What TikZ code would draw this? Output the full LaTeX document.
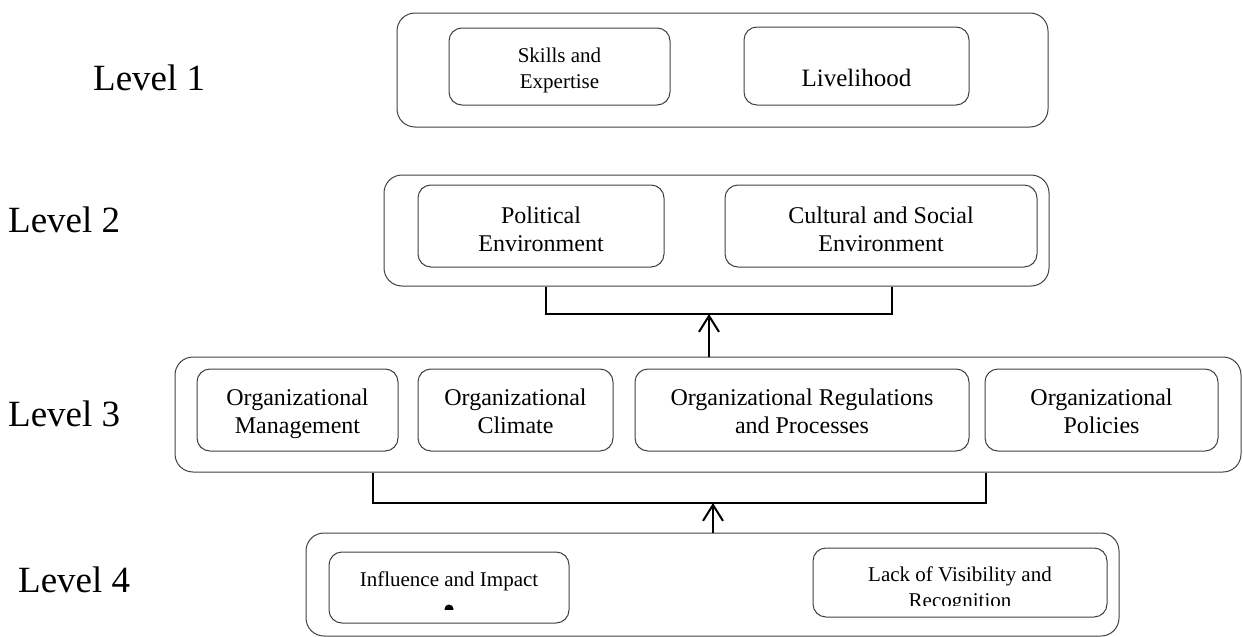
\documentclass[tikz,border=0pt]{standalone}
\usepackage{fontspec}
\setmainfont{Liberation Serif}
\usetikzlibrary{arrows.meta}
\begin{document}
\begin{tikzpicture}[x=1pt,y=-1pt,
  levelbox/.style={draw=black!75, line width=1pt, rounded corners=18pt, inner sep=0pt},
  itembox/.style={draw=black!75, line width=1pt, rounded corners=13pt, inner sep=0pt},
  levellabel/.style={font=\fontsize{37}{40}\selectfont, anchor=base west, inner sep=0pt},
  itemA/.style={font=\fontsize{24}{28}\selectfont, align=center, anchor=base, inner sep=0pt},
  itemB/.style={font=\fontsize{21}{26}\selectfont, align=center, anchor=base, inner sep=0pt},
  conn/.style={draw=black, line width=2pt},
  uparrow/.style={conn, -{Straight Barb[length=16pt,width=20pt,line width=2pt]}}]
\useasboundingbox (0,0) rectangle (1243,637);

% level labels
\node[levellabel] (lab1) at (93,90) {Level 1};
\node[levellabel] (lab2) at (8,232) {Level 2};
\node[levellabel] (lab3) at (8,426) {Level 3};
\node[levellabel] (lab4) at (18,592) {Level 4};

% level 1 (multi-line texts are placed by the baseline of their last line)
\node[levelbox, minimum width=651pt, minimum height=114pt] (l1) at (722.5,70) {};
\node[itembox, minimum width=221pt, minimum height=77pt] (skills) at (559.5,66.5) {};
\node[itembox, minimum width=225pt, minimum height=78pt] (live) at (856.5,66) {};
\node[itemB] (skillsT) at (559.5,88) {Skills and\\Expertise};
\node[itemA, font=\fontsize{25}{28}\selectfont] (liveT) at (856.5,86) {Livelihood};

% level 2
\node[levelbox, minimum width=665pt, minimum height=111pt] (l2) at (716.5,230.5) {};
\node[itembox, minimum width=246pt, minimum height=82pt] (pol) at (541,226) {};
\node[itembox, minimum width=312pt, minimum height=82pt] (cult) at (881,226) {};
\node[itemA] (polT) at (541,251) {Political\\Environment};
\node[itemA] (cultT) at (881,251) {Cultural and Social\\Environment};

% level 3
\node[levelbox, minimum width=1066pt, minimum height=115pt] (l3) at (708,414.5) {};
\node[itembox, minimum width=201pt, minimum height=82pt] (mgmt) at (297.5,410) {};
\node[itembox, minimum width=195pt, minimum height=82pt] (clim) at (515.5,410) {};
\node[itembox, minimum width=334pt, minimum height=82pt] (regs) at (802,410) {};
\node[itembox, minimum width=233pt, minimum height=82pt] (pols) at (1101.5,410) {};
\node[itemA] (mgmtT) at (297.5,433) {Organizational\\Management};
\node[itemA] (climT) at (515.5,433) {Organizational\\Climate};
\node[itemA] (regsT) at (802,433) {Organizational Regulations\\and Processes};
\node[itemA] (polsT) at (1101.5,433) {Organizational\\Policies};

% level 4
\node[levelbox, minimum width=813pt, minimum height=103pt] (l4) at (712.5,584.5) {};
\node[itembox, minimum width=240pt, minimum height=71pt] (infl) at (449,587.5) {};
\node[itembox, minimum width=294pt, minimum height=69pt] (lack) at (960,582.5) {};
\node[itemB] (inflT) at (449,586) {Influence and Impact};
\begin{scope}
  \clip (440,598) rectangle (458,609);
  \fill (449,609) circle[radius=4.5pt];
\end{scope}
\begin{scope}
  \clip (814,549) rectangle (1106,605);
  \node[itemB] (lackT) at (960,607) {Lack of Visibility and\\Recognition};
\end{scope}

% level 3 feeds level 2
\coordinate (j2) at (709,314);
\coordinate (b2l) at (546,314);
\coordinate (b2r) at (892,314);
\draw[conn] (l2.south -| b2l) -- (b2l) -- (b2r) -- (l2.south -| b2r);
\draw[uparrow] (l3.north -| j2) -- (j2);

% level 4 feeds level 3
\coordinate (j3) at (713,503);
\coordinate (b3l) at (373,503);
\coordinate (b3r) at (986,503);
\draw[conn] (l3.south -| b3l) -- (b3l) -- (b3r) -- (l3.south -| b3r);
\draw[uparrow] (l4.north -| j3) -- (j3);
\end{tikzpicture}
\end{document}
